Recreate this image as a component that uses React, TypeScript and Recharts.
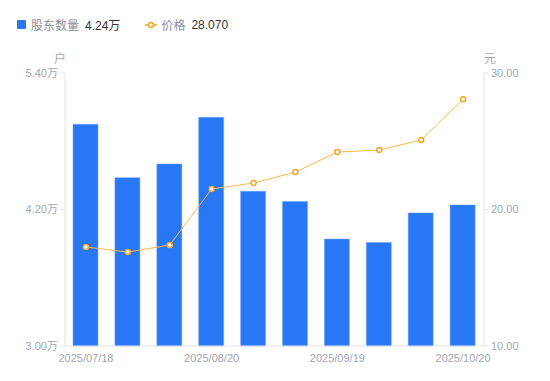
import React from 'react';
import { ComposedChart, Bar, Line, XAxis, YAxis } from 'recharts';

const dates = ['2025/07/18', '2025/07/31', '2025/08/10', '2025/08/20', '2025/08/31', '2025/09/10', '2025/09/19', '2025/09/30', '2025/10/10', '2025/10/20'];
const holders = [4.95, 4.48, 4.6, 5.01, 4.36, 4.27, 3.94, 3.91, 4.17, 4.24];
const prices = [17.25, 16.88, 17.4, 21.5, 21.94, 22.74, 24.21, 24.36, 25.09, 28.07];
const leftTicks = [3, 4.2, 5.4];
const rightTicks = [10, 20, 30];

const data = dates.map((d, i) => ({ date: d, holders: holders[i], price: prices[i] }));

const FONT = '"Liberation Sans", "Noto Sans CJK SC", sans-serif';
const tickStyle = { fill: '#a3a5b0', fontSize: 11, fontFamily: FONT };

export default function App() {
  return (
    <div style={{ position: 'absolute', left: 0, top: 0, width: 550, height: 381, background: '#fff', fontFamily: FONT }}>
      <div style={{ position: 'absolute', left: 17, top: 16, fontSize: 12, display: 'flex', alignItems: 'center', whiteSpace: 'nowrap' }}>
        <span style={{ width: 9, height: 9, background: '#2878f5', borderRadius: 1, display: 'inline-block', marginRight: 5 }} />
        <span style={{ color: '#8a8d99' }}>股东数量</span>
        <span style={{ color: '#333', marginLeft: 6 }}>4.24万</span>
        <svg width={12} height={8} style={{ marginLeft: 25, marginRight: 4 }}>
          <line x1={0} y1={4} x2={12} y2={4} stroke="#f5a623" strokeWidth={1.5} />
          <circle cx={6} cy={4} r={2.5} fill="#fff" stroke="#f5a623" strokeWidth={1.5} />
        </svg>
        <span style={{ color: '#8a8d99' }}>价格</span>
        <span style={{ color: '#333', marginLeft: 6 }}>28.070</span>
      </div>
      <div style={{ position: 'absolute', left: 54, top: 49, fontSize: 12, color: '#a3a5b0' }}>户</div>
      <div style={{ position: 'absolute', left: 484, top: 49, fontSize: 12, color: '#a3a5b0' }}>元</div>
      <ComposedChart width={550} height={381} data={data} margin={{ top: 73, right: 0, left: 0, bottom: 5 }}>
        <XAxis
          dataKey="date"
          interval={2}
          tickLine={false}
          axisLine={{ stroke: '#e3e4e8' }}
          tick={tickStyle}
          height={30}
          tickMargin={2}
        />
        <YAxis
          yAxisId="left"
          domain={[3, 5.4]}
          ticks={leftTicks}
          tickFormatter={(v: number) => v.toFixed(2) + '万'}
          width={65}
          tickSize={4}
          tickMargin={3}
          axisLine={{ stroke: '#e3e4e8' }}
          tickLine={{ stroke: '#e3e4e8' }}
          tick={tickStyle}
        />
        <YAxis
          yAxisId="right"
          orientation="right"
          domain={[10, 30]}
          ticks={rightTicks}
          tickFormatter={(v: number) => v.toFixed(2)}
          width={66}
          tickSize={4}
          tickMargin={3}
          axisLine={{ stroke: '#e3e4e8' }}
          tickLine={{ stroke: '#e3e4e8' }}
          tick={tickStyle}
        />
        <Bar yAxisId="left" dataKey="holders" fill="#2878f5" stroke="#6fa3f7" strokeWidth={0.5} barSize={25} isAnimationActive={false} />
        <Line
          yAxisId="right"
          dataKey="price"
          type="linear"
          stroke="#f7b94a"
          strokeWidth={1}
          dot={{ r: 2.5, fill: '#fff', stroke: '#f5a623', strokeWidth: 1.5 }}
          isAnimationActive={false}
        />
      </ComposedChart>
    </div>
  );
}
